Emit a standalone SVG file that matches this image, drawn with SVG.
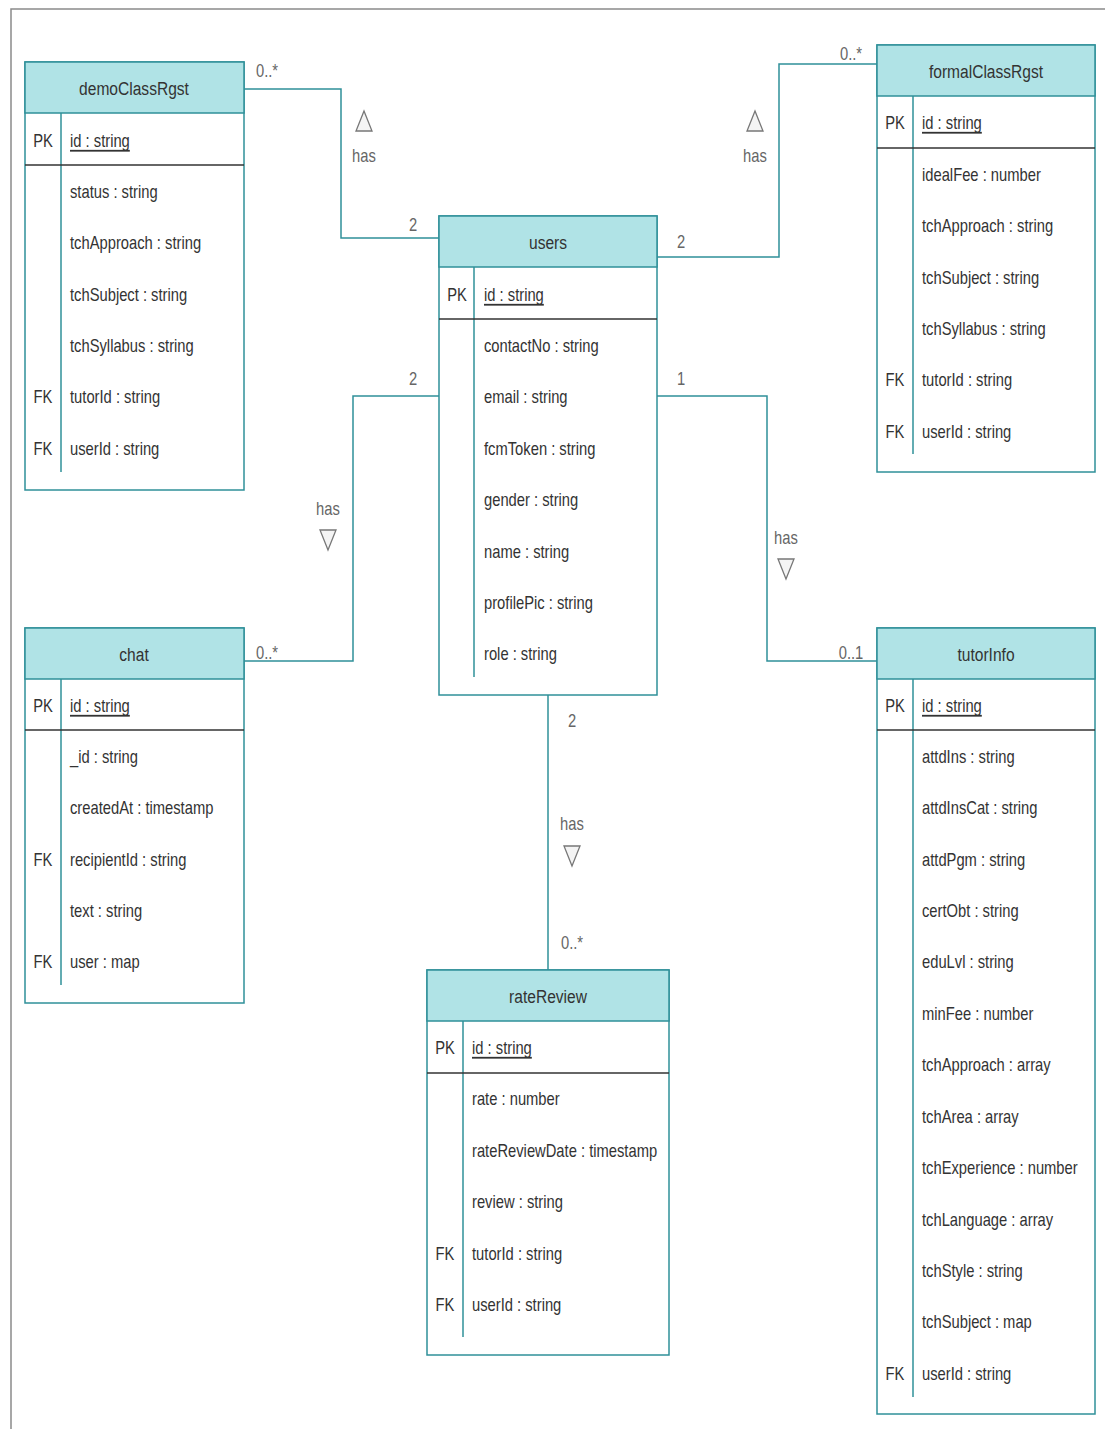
<svg xmlns="http://www.w3.org/2000/svg" width="1105" height="1429" viewBox="0 0 1105 1429">
  <style>
    text { font-family: "Liberation Sans", Arial, sans-serif; fill: #333; dominant-baseline: central; }
    .frame { fill: none; stroke: #8a8a8a; stroke-width: 1.5; }
    .box { fill: #fff; stroke: #2f9099; stroke-width: 1.5; }
    .head { fill: #b0e3e6; stroke: #2f9099; stroke-width: 1.5; }
    .sep { stroke: #333; stroke-width: 1.5; }
    .div { stroke: #2f9099; stroke-width: 1.5; }
    .title { font-size: 19px; text-anchor: middle; }
    .key { font-size: 18px; text-anchor: middle; }
    .attr { font-size: 18px; }
    .pk { text-decoration: underline; }
    .edge { fill: none; stroke: #2f9099; stroke-width: 1.5; }
    .lbl { font-size: 18px; fill: #666; text-anchor: middle; }
    .tri { fill: #f4f4f4; stroke: #777; stroke-width: 1.3; }
  </style>

  <rect class="frame" x="11" y="9" width="1200" height="1500"/>

  <!-- relationships; labels are narrowed with a horizontal scale -->
  <g id="connectors">
    <polyline class="edge" points="244,89 341,89 341,238 439,238"/>
    <text class="lbl" transform="translate(267 70) scale(.82 1)">0..*</text>
    <text class="lbl" transform="translate(413 224) scale(.82 1)">2</text>
    <polygon class="tri" points="364,111 372,131 356,131"/>
    <text class="lbl" transform="translate(364 155) scale(.82 1)">has</text>

    <polyline class="edge" points="657,257 779,257 779,64 877,64"/>
    <text class="lbl" transform="translate(681 241) scale(.82 1)">2</text>
    <text class="lbl" transform="translate(851 53) scale(.82 1)">0..*</text>
    <polygon class="tri" points="755,111 763,131 747,131"/>
    <text class="lbl" transform="translate(755 155) scale(.82 1)">has</text>

    <polyline class="edge" points="439,396 353,396 353,661 244,661"/>
    <text class="lbl" transform="translate(413 378) scale(.82 1)">2</text>
    <text class="lbl" transform="translate(328 508) scale(.82 1)">has</text>
    <polygon class="tri" points="320,530 336,530 328,550"/>
    <text class="lbl" transform="translate(267 652) scale(.82 1)">0..*</text>

    <polyline class="edge" points="657,396 767,396 767,661 877,661"/>
    <text class="lbl" transform="translate(681 378) scale(.82 1)">1</text>
    <text class="lbl" transform="translate(786 537) scale(.82 1)">has</text>
    <polygon class="tri" points="778,559 794,559 786,579"/>
    <text class="lbl" transform="translate(851 652) scale(.82 1)">0..1</text>

    <line class="edge" x1="548" y1="695" x2="548" y2="970"/>
    <text class="lbl" transform="translate(572 720) scale(.82 1)">2</text>
    <text class="lbl" transform="translate(572 823) scale(.82 1)">has</text>
    <polygon class="tri" points="564,846 580,846 572,866"/>
    <text class="lbl" transform="translate(572 942) scale(.82 1)">0..*</text>
  </g>

  <!-- demoClassRgst -->
  <g id="demoClassRgst">
    <rect class="box" x="25" y="62" width="219" height="428"/>
    <rect class="head" x="25" y="62" width="219" height="51"/>
    <text class="title" transform="translate(134 88) scale(.82 1)">demoClassRgst</text>
    <line class="div" x1="61" y1="113" x2="61" y2="472"/>
    <line class="sep" x1="25" y1="165" x2="244" y2="165"/>
    <text class="key" transform="translate(43 140) scale(.82 1)">PK</text>
    <text class="attr pk" transform="translate(70 140) scale(.82 1)">id : string</text>
    <text class="attr" transform="translate(70 191) scale(.82 1)">status : string</text>
    <text class="attr" transform="translate(70 242) scale(.82 1)">tchApproach : string</text>
    <text class="attr" transform="translate(70 294) scale(.82 1)">tchSubject : string</text>
    <text class="attr" transform="translate(70 345) scale(.82 1)">tchSyllabus : string</text>
    <text class="key" transform="translate(43 396) scale(.82 1)">FK</text>
    <text class="attr" transform="translate(70 396) scale(.82 1)">tutorId : string</text>
    <text class="key" transform="translate(43 448) scale(.82 1)">FK</text>
    <text class="attr" transform="translate(70 448) scale(.82 1)">userId : string</text>
  </g>

  <!-- users -->
  <g id="users">
    <rect class="box" x="439" y="216" width="218" height="479"/>
    <rect class="head" x="439" y="216" width="218" height="51"/>
    <text class="title" transform="translate(548 242) scale(.82 1)">users</text>
    <line class="div" x1="474" y1="267" x2="474" y2="677"/>
    <line class="sep" x1="439" y1="319" x2="657" y2="319"/>
    <text class="key" transform="translate(457 294) scale(.82 1)">PK</text>
    <text class="attr pk" transform="translate(484 294) scale(.82 1)">id : string</text>
    <text class="attr" transform="translate(484 345) scale(.82 1)">contactNo : string</text>
    <text class="attr" transform="translate(484 396) scale(.82 1)">email : string</text>
    <text class="attr" transform="translate(484 448) scale(.82 1)">fcmToken : string</text>
    <text class="attr" transform="translate(484 499) scale(.82 1)">gender : string</text>
    <text class="attr" transform="translate(484 551) scale(.82 1)">name : string</text>
    <text class="attr" transform="translate(484 602) scale(.82 1)">profilePic : string</text>
    <text class="attr" transform="translate(484 653) scale(.82 1)">role : string</text>
  </g>

  <!-- formalClassRgst -->
  <g id="formalClassRgst">
    <rect class="box" x="877" y="45" width="218" height="427"/>
    <rect class="head" x="877" y="45" width="218" height="51"/>
    <text class="title" transform="translate(986 71) scale(.82 1)">formalClassRgst</text>
    <line class="div" x1="913" y1="96" x2="913" y2="454"/>
    <line class="sep" x1="877" y1="148" x2="1095" y2="148"/>
    <text class="key" transform="translate(895 122) scale(.82 1)">PK</text>
    <text class="attr pk" transform="translate(922 122) scale(.82 1)">id : string</text>
    <text class="attr" transform="translate(922 174) scale(.82 1)">idealFee : number</text>
    <text class="attr" transform="translate(922 225) scale(.82 1)">tchApproach : string</text>
    <text class="attr" transform="translate(922 277) scale(.82 1)">tchSubject : string</text>
    <text class="attr" transform="translate(922 328) scale(.82 1)">tchSyllabus : string</text>
    <text class="key" transform="translate(895 379) scale(.82 1)">FK</text>
    <text class="attr" transform="translate(922 379) scale(.82 1)">tutorId : string</text>
    <text class="key" transform="translate(895 431) scale(.82 1)">FK</text>
    <text class="attr" transform="translate(922 431) scale(.82 1)">userId : string</text>
  </g>

  <!-- chat -->
  <g id="chat">
    <rect class="box" x="25" y="628" width="219" height="375"/>
    <rect class="head" x="25" y="628" width="219" height="51"/>
    <text class="title" transform="translate(134 654) scale(.82 1)">chat</text>
    <line class="div" x1="61" y1="679" x2="61" y2="985"/>
    <line class="sep" x1="25" y1="730" x2="244" y2="730"/>
    <text class="key" transform="translate(43 705) scale(.82 1)">PK</text>
    <text class="attr pk" transform="translate(70 705) scale(.82 1)">id : string</text>
    <text class="attr" transform="translate(70 756) scale(.82 1)">_id : string</text>
    <text class="attr" transform="translate(70 807) scale(.82 1)">createdAt : timestamp</text>
    <text class="key" transform="translate(43 859) scale(.82 1)">FK</text>
    <text class="attr" transform="translate(70 859) scale(.82 1)">recipientId : string</text>
    <text class="attr" transform="translate(70 910) scale(.82 1)">text : string</text>
    <text class="key" transform="translate(43 961) scale(.82 1)">FK</text>
    <text class="attr" transform="translate(70 961) scale(.82 1)">user : map</text>
  </g>

  <!-- tutorInfo -->
  <g id="tutorInfo">
    <rect class="box" x="877" y="628" width="218" height="786"/>
    <rect class="head" x="877" y="628" width="218" height="51"/>
    <text class="title" transform="translate(986 654) scale(.82 1)">tutorInfo</text>
    <line class="div" x1="913" y1="679" x2="913" y2="1397"/>
    <line class="sep" x1="877" y1="730" x2="1095" y2="730"/>
    <text class="key" transform="translate(895 705) scale(.82 1)">PK</text>
    <text class="attr pk" transform="translate(922 705) scale(.82 1)">id : string</text>
    <text class="attr" transform="translate(922 756) scale(.82 1)">attdIns : string</text>
    <text class="attr" transform="translate(922 807) scale(.82 1)">attdInsCat : string</text>
    <text class="attr" transform="translate(922 859) scale(.82 1)">attdPgm : string</text>
    <text class="attr" transform="translate(922 910) scale(.82 1)">certObt : string</text>
    <text class="attr" transform="translate(922 961) scale(.82 1)">eduLvl : string</text>
    <text class="attr" transform="translate(922 1013) scale(.82 1)">minFee : number</text>
    <text class="attr" transform="translate(922 1064) scale(.82 1)">tchApproach : array</text>
    <text class="attr" transform="translate(922 1116) scale(.82 1)">tchArea : array</text>
    <text class="attr" transform="translate(922 1167) scale(.82 1)">tchExperience : number</text>
    <text class="attr" transform="translate(922 1219) scale(.82 1)">tchLanguage : array</text>
    <text class="attr" transform="translate(922 1270) scale(.82 1)">tchStyle : string</text>
    <text class="attr" transform="translate(922 1321) scale(.82 1)">tchSubject : map</text>
    <text class="key" transform="translate(895 1373) scale(.82 1)">FK</text>
    <text class="attr" transform="translate(922 1373) scale(.82 1)">userId : string</text>
  </g>

  <!-- rateReview -->
  <g id="rateReview">
    <rect class="box" x="427" y="970" width="242" height="385"/>
    <rect class="head" x="427" y="970" width="242" height="51"/>
    <text class="title" transform="translate(548 996) scale(.82 1)">rateReview</text>
    <line class="div" x1="463" y1="1021" x2="463" y2="1337"/>
    <line class="sep" x1="427" y1="1073" x2="669" y2="1073"/>
    <text class="key" transform="translate(445 1047) scale(.82 1)">PK</text>
    <text class="attr pk" transform="translate(472 1047) scale(.82 1)">id : string</text>
    <text class="attr" transform="translate(472 1098) scale(.82 1)">rate : number</text>
    <text class="attr" transform="translate(472 1150) scale(.82 1)">rateReviewDate : timestamp</text>
    <text class="attr" transform="translate(472 1201) scale(.82 1)">review : string</text>
    <text class="key" transform="translate(445 1253) scale(.82 1)">FK</text>
    <text class="attr" transform="translate(472 1253) scale(.82 1)">tutorId : string</text>
    <text class="key" transform="translate(445 1304) scale(.82 1)">FK</text>
    <text class="attr" transform="translate(472 1304) scale(.82 1)">userId : string</text>
  </g>
</svg>
